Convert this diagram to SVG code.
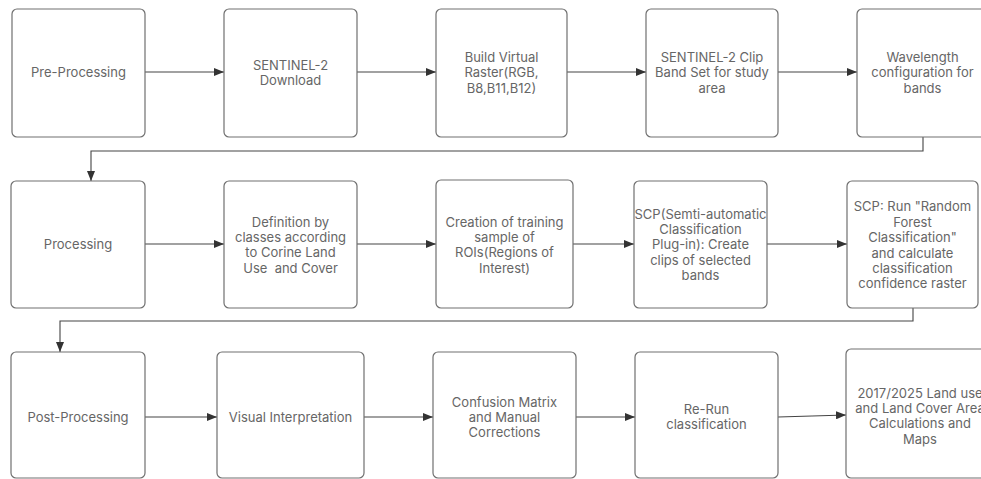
<svg xmlns="http://www.w3.org/2000/svg" width="981" height="479" viewBox="0 0 981 479">
<defs>
<marker id="ah" markerWidth="10" markerHeight="8" refX="10" refY="4" orient="auto" markerUnits="userSpaceOnUse">
<path d="M0,0 L10,4 L0,8 Z" fill="#333"/>
</marker>
<style>
.box{fill:#fff;stroke:#707070;stroke-width:1.2}
.t{font-family:Inter,"Liberation Sans",sans-serif;font-size:13px;fill:#666;text-anchor:middle}
.c{fill:none;stroke:#444;stroke-width:1.1;marker-end:url(#ah)}
</style>
</defs>
<rect width="981" height="479" fill="#fff"/>
<g id="connectors">
<path class="c" d="M145,72 H224"/>
<path class="c" d="M357,72 H436"/>
<path class="c" d="M567,72 H646"/>
<path class="c" d="M778,72 H857"/>
<path class="c" d="M923,137 V151 H91 V181"/>
<path class="c" d="M145,244 H224"/>
<path class="c" d="M357,244 H436"/>
<path class="c" d="M573,244 H634"/>
<path class="c" d="M767,244 H847"/>
<path class="c" d="M913,308 V321 H60 V352"/>
<path class="c" d="M145,417 H217"/>
<path class="c" d="M364,417 H433"/>
<path class="c" d="M576,417 H635"/>
<path class="c" d="M778,417 L846,415"/>
</g>
<g id="n1"><rect class="box" x="12" y="9" width="133" height="128" rx="5"/><text class="t" x="78.5" y="77">Pre-Processing</text></g>
<g id="n2"><rect class="box" x="224" y="9" width="133" height="128" rx="5"/><text class="t" x="290.5" y="70">SENTINEL-2</text><text class="t" x="290.5" y="85">Download</text></g>
<g id="n3"><rect class="box" x="436" y="9" width="131" height="128" rx="5"/><text class="t" x="501.5" y="62">Build Virtual</text><text class="t" x="501.5" y="77">Raster(RGB,</text><text class="t" x="501.5" y="93">B8,B11,B12)</text></g>
<g id="n4"><rect class="box" x="646" y="9" width="132" height="128" rx="5"/><text class="t" x="712" y="62">SENTINEL-2 Clip</text><text class="t" x="712" y="77">Band Set for study</text><text class="t" x="712" y="93">area</text></g>
<g id="n5"><rect class="box" x="857" y="9" width="131" height="128" rx="5"/><text class="t" x="922.5" y="62">Wavelength</text><text class="t" x="922.5" y="77">configuration for</text><text class="t" x="922.5" y="93">bands</text></g>
<g id="n6"><rect class="box" x="11" y="181" width="134" height="127" rx="5"/><text class="t" x="78" y="249">Processing</text></g>
<g id="n7"><rect class="box" x="224" y="181" width="133" height="127" rx="5"/><text class="t" x="290.5" y="227">Definition by</text><text class="t" x="290.5" y="242">classes according</text><text class="t" x="290.5" y="257">to Corine Land</text><text class="t" x="290.5" y="273">Use&#160; and Cover</text></g>
<g id="n8"><rect class="box" x="436" y="180" width="137" height="128" rx="5"/><text class="t" x="504.5" y="227">Creation of training</text><text class="t" x="504.5" y="242">sample of</text><text class="t" x="504.5" y="257">ROIs(Regions of</text><text class="t" x="504.5" y="273">Interest)</text></g>
<g id="n9"><rect class="box" x="634" y="181" width="133" height="127" rx="5"/><text class="t" x="700.5" y="219">SCP(Semti-automatic</text><text class="t" x="700.5" y="234">Classification</text><text class="t" x="700.5" y="249">Plug-in): Create</text><text class="t" x="700.5" y="265">clips of selected</text><text class="t" x="700.5" y="280">bands</text></g>
<g id="n10"><rect class="box" x="847" y="181" width="131" height="127" rx="5"/><text class="t" x="912.5" y="211">SCP: Run "Random</text><text class="t" x="912.5" y="227">Forest</text><text class="t" x="912.5" y="242">Classification"</text><text class="t" x="912.5" y="258">and calculate</text><text class="t" x="912.5" y="273">classification</text><text class="t" x="912.5" y="288">confidence raster</text></g>
<g id="n11"><rect class="box" x="11" y="352" width="134" height="126" rx="5"/><text class="t" x="78" y="422">Post-Processing</text></g>
<g id="n12"><rect class="box" x="217" y="352" width="147" height="126" rx="5"/><text class="t" x="290.5" y="422">Visual Interpretation</text></g>
<g id="n13"><rect class="box" x="433" y="352" width="143" height="126" rx="5"/><text class="t" x="504.5" y="407">Confusion Matrix</text><text class="t" x="504.5" y="422">and Manual</text><text class="t" x="504.5" y="437">Corrections</text></g>
<g id="n14"><rect class="box" x="635" y="352" width="143" height="126" rx="5"/><text class="t" x="706.5" y="414">Re-Run</text><text class="t" x="706.5" y="429">classification</text></g>
<g id="n15"><rect class="box" x="846" y="349" width="148" height="129" rx="5"/><text class="t" x="920" y="398">2017/2025 Land use</text><text class="t" x="920" y="413">and Land Cover Area</text><text class="t" x="920" y="428">Calculations and</text><text class="t" x="920" y="444">Maps</text></g>
</svg>
